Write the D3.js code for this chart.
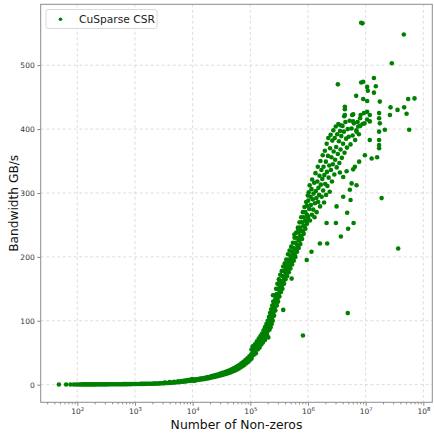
<!DOCTYPE html>
<html>
<head>
<meta charset="utf-8">
<script src="https://cdn.jsdelivr.net/npm/d3@7"></script>
<style>
  body { margin: 0; background: #fff; }
  text { font-family: "DejaVu Sans", sans-serif; }
</style>
</head>
<body>
<div class="layout"></div>
<script>

// flat part of the curve, small matrices [nnz, GB/s]
const tail = [
  [48,0.3],[64,0.3],[76,0.3],[87,0.3],[96,0.3],[105,0.3],[113,0.3],[121,0.4],[130,0.4],[139,0.4],
  [148,0.4],[157,0.4],[167,0.4],[178,0.4],[190,0.4],[202,0.4],[215,0.5],[229,0.5],[244,0.5],[260,0.5],
  [277,0.5],[295,0.5],[314,0.5],[334,0.5],[356,0.6],[379,0.6],[404,0.6],[430,0.6],[458,0.6],[488,0.7],
  [520,0.7],[554,0.7],[590,0.7],[628,0.8],[669,0.8],[712,0.8],[758,0.9],[807,0.9],[860,0.9],[916,1.0],
  [975,1.0],[1040,1.0],[1110,1.1],[1180,1.1],[1260,1.2],[1340,1.2],[1430,1.3],[1520,1.3],[1620,1.4],
  [1730,1.4],[1840,1.5],[1960,1.5],[2090,1.6],[2230,1.7],[2370,1.8],[2530,1.9],[2690,2.0],[2870,2.1],
  [3060,2.2],[3260,2.4],[3300,3.2],[3470,2.5],[3700,2.7],[3940,2.8],[4000,3.9],[4200,3.0],[4470,3.2],
  [4760,3.4],[4800,4.6],[5070,3.6],[5400,3.8],[5600,5.2],[5760,4.0],[6130,4.3],[6400,5.8],[6530,4.5],
  [6960,4.8],[7200,6.5],[7410,5.1],[7900,5.4],[8100,7.2],[8410,5.7],[8960,6.0],[9000,7.8],[9550,6.3],
  [9800,8.6]
];

// rising part from 1e4 to 1e5
const ramp = [
  [10500,6.0],[10800,8.0],[11200,6.6],[11600,8.4],[12000,7.2],[12500,8.9],[13000,7.6],[13500,9.4],
  [14000,8.0],[14600,9.9],[15200,8.4],[15800,10.5],[16400,9.0],[17000,11.1],[17700,9.6],[18400,11.8],
  [19100,10.2],[19900,12.5],[20700,10.8],[21500,13.3],[22400,11.5],[23300,14.2],[24200,12.2],[25200,15.0],
  [26200,13.0],[27300,16.0],[28400,13.8],[29500,17.0],[30700,14.6],[32000,18.0],[33300,15.4],[34600,19.0],
  [36000,16.3],[37500,20.1],[39000,17.2],[40600,21.3],[42200,18.2],[43900,22.6],[45700,19.3],[47500,24.0],
  [49400,20.5],[51400,25.6],[53500,21.9],[55600,27.3],[57800,23.4],[60100,29.2],[62500,25.0],[65000,31.2],
  [67600,26.8],[70300,33.4],[73100,28.8],[76000,35.8],[79000,31.0],[82200,38.4],[85500,33.4],[88900,41.2],
  [92400,36.0],[96100,44.2],[99900,39.0],[103900,47.5]
];

// steep band from 1e5 to 1e6
const band = [
  [105000,44],[105000,55],[110000,50],[110000,60],[115000,47],[115000,57],[120000,53],[120000,63],
  [125000,49],[125000,56],[130000,60],[130000,68],[135000,55],[135000,65],[140000,62],[140000,72],
  [145000,58],[145000,69],[150000,66],[150000,76],[155000,63],[155000,73],[160000,70],[160000,80],
  [165000,66],[165000,76],[170000,73],[170000,85],[175000,70],[175000,80],[180000,77],[180000,90],
  [185000,74],[185000,86],[190000,81],[190000,95],[195000,78],[195000,92],[200000,84],[200000,100],
  [205000,74],[205000,88],[205000,96],[210000,92],[210000,106],[215000,86],[215000,93],[215000,100],
  [220000,96],[220000,112],[225000,90],[225000,98],[225000,105],[230000,100],[230000,118],[235000,95],
  [235000,104],[235000,112],[240000,106],[240000,124],[245000,100],[245000,110],[245000,118],[250000,112],
  [250000,130],[258000,108],[258000,117],[258000,126],[265000,120],[265000,140],[272000,116],[272000,125],
  [272000,134],[280000,128],[280000,150],[288000,124],[288000,133],[288000,142],[295000,134],[295000,158],
  [303000,130],[303000,140],[303000,150],[312000,142],[312000,165],[320000,138],[320000,147],[320000,156],
  [330000,148],[330000,172],[340000,145],[340000,154],[340000,162],[350000,155],[350000,178],[360000,150],
  [360000,160],[360000,170],[372000,162],[372000,185],[384000,158],[384000,168],[384000,178],[396000,168],
  [396000,190],[408000,165],[408000,175],[408000,184],[420000,174],[420000,196],[435000,170],[435000,180],
  [435000,190],[450000,180],[450000,204],[465000,176],[465000,186],[465000,196],[480000,186],[480000,210],
  [495000,182],[495000,192],[495000,202],[512000,192],[512000,216],[530000,188],[530000,198],[530000,208],
  [548000,198],[548000,222],[566000,194],[566000,204],[566000,214],[585000,204],[585000,230],[605000,200],
  [605000,211],[605000,222],[625000,212],[625000,238],[646000,208],[646000,219],[646000,230],[668000,218],
  [668000,246],[690000,214],[690000,226],[690000,238],[713000,226],[713000,254],[737000,220],[737000,233],
  [737000,246],[762000,232],[762000,262],[788000,228],[788000,241],[788000,254],[815000,240],[815000,270],
  [842000,236],[842000,249],[842000,262],[870000,248],[870000,278],[900000,244],[900000,257],[900000,270],
  [930000,256],[930000,286],[961000,252],[961000,266],[961000,280],[993000,264],[993000,296]
];

// spread out cloud of the big matrices
const upper = [
  [1.00e6,262],[1.01e6,288],[1.03e6,301],[1.05e6,275],[1.07e6,312],[1.08e6,257],[1.11e6,294],[1.12e6,281],
  [1.15e6,306],[1.17e6,266],[1.18e6,321],[1.21e6,290],[1.23e6,274],[1.25e6,299],[1.28e6,316],[1.30e6,262],
  [1.32e6,284],[1.35e6,331],[1.37e6,303],[1.40e6,292],[1.41e6,270],[1.45e6,318],[1.48e6,341],[1.50e6,286],
  [1.52e6,308],[1.56e6,297],[1.58e6,327],[1.62e6,279],[1.64e6,350],[1.67e6,313],[1.71e6,336],[1.73e6,294],
  [1.77e6,322],[1.80e6,359],[1.83e6,304],[1.86e6,341],[1.90e6,285],[1.92e6,328],[1.96e6,366],[1.99e6,314],
  [2.04e6,349],[2.06e6,297],[2.11e6,377],[2.13e6,333],[2.17e6,311],[2.22e6,358],[2.25e6,386],[2.28e6,324],
  [2.34e6,343],[2.38e6,302],[2.41e6,370],[2.47e6,391],[2.50e6,336],[2.55e6,356],[2.61e6,318],[2.64e6,382],
  [2.70e6,345],[2.75e6,398],[2.79e6,365],[2.86e6,329],[2.91e6,386],[2.96e6,352],[3.03e6,404],[3.08e6,372],
  [3.15e6,340],[3.21e6,392],[3.29e6,361],[3.36e6,408],[3.44e6,381],[3.50e6,347],[3.59e6,397],[3.67e6,368],
  [3.78e6,389],[3.86e6,355],[3.97e6,405],[4.06e6,377],[4.19e6,396],[4.30e6,363],[4.45e6,411],[4.58e6,385],
  [4.74e6,371],[4.90e6,400],[5.08e6,388],[5.27e6,413],[5.46e6,376],[5.70e6,401],[5.95e6,390],[6.25e6,409],
  [6.58e6,383],[6.90e6,398],[7.25e6,411],[7.62e6,392],[8.05e6,405]
];

// loose points around the cloud
const sparse = [
  [6.17e6,253],[4.97e6,244],[3.72e6,232],[3.05e6,253],[2.15e6,221],[1.61e6,221],[4.78e6,269],
  [8.17e6,422],[9.31e6,425],[1.06e7,427],[1.18e7,422],[1.06e7,415],[1.18e7,412],[9.56e6,409],[8.00e6,417],
  [1.71e7,425],[1.71e7,417],[1.76e7,409],[2.63e7,422],[5.12e7,424],[5.68e7,399],
  [3.67e6,406],[6.07e6,412],[7.41e6,404],[8.83e6,408],[6.95e6,396],[1.71e7,396],[2.15e7,399],
  [1.18e7,383],[1.71e7,383],[1.71e7,375],[1.71e7,370],[9.69e6,359],[1.27e7,354],[1.58e7,356],
  [7.71e6,349],[6.50e6,341],[6.07e6,337],[3.57e6,332],[4.67e6,334],[4.08e6,325],[5.70e6,315],[6.95e6,312],
  [5.32e6,305],[4.08e6,294],[5.47e6,289],[3.13e6,279],
  [8.36e6,473],[9.06e6,474],[1.39e7,480],[1.06e7,466],[1.50e7,467],[1.09e7,460],[1.39e7,457],[6.84e6,452],
  [9.06e6,447],[1.06e7,444],[1.76e7,443],[5.46e7,447],[7.03e7,448],
  [4.36e6,435],[4.36e6,431],[4.36e6,422],[5.83e6,422],[2.70e7,434],[3.57e7,430],[4.65e7,434],[6.07e6,423],
  [4.24e6,420],[6.80e5,243],[5.80e5,235],[2.47e5,140],[3.17e5,164],[1.79e5,70],[3.72e5,117],[5.20e5,166],
  [9.50e5,195],[1.15e6,208],[2.10e6,253],[1.05e5,41]
];

// far away points
const outliers = [
  [8.36e6,566.5],[8.80e6,565.5],[4.59e7,548],[2.84e7,503],[3.30e6,470],[3.66e7,213],
  [4.90e6,112],[8.17e5,77],[1.89e7,292]
];

const yTicks = [0, 100, 200, 300, 400, 500];
const xExponents = [2, 3, 4, 5, 6, 7, 8];
const seriesName = "CuSparse CSR";

function drawChart() {
  var width = 434;
  var height = 434;
  var left = 40.7, right = 432.3, top = 4.3, bottom = 402.3;

  var svg = d3.select("div.layout")
    .append("svg")
      .attr("width", width)
      .attr("height", height);

  var x = d3.scaleLog()
    .domain([23.2, 1.43e8])
    .range([left, right]);

  var y = d3.scaleLinear()
    .domain([-27.6, 595.3])
    .range([bottom, top]);

  var points = tail.concat(ramp, band, upper, sparse, outliers);

  // grid lines
  var grid = svg.append("g").attr("class", "grid");
  grid.selectAll("line.gx")
    .data(xExponents)
    .enter()
    .append("line")
    .attr("x1", function (d) { return x(Math.pow(10, d)); })
    .attr("x2", function (d) { return x(Math.pow(10, d)); })
    .attr("y1", top)
    .attr("y2", bottom);
  grid.selectAll("line.gy")
    .data(yTicks)
    .enter()
    .append("line")
    .attr("x1", left)
    .attr("x2", right)
    .attr("y1", function (d) { return y(d); })
    .attr("y2", function (d) { return y(d); });
  grid.selectAll("line")
    .attr("stroke", "#d4d4d4")
    .attr("stroke-width", 0.8)
    .attr("stroke-dasharray", "3,2.5");

  // the points
  svg.append("g")
    .selectAll("circle")
    .data(points)
    .enter()
    .append("circle")
    .attr("cx", function (d) { return x(d[0]); })
    .attr("cy", function (d) { return y(d[1]); })
    .attr("r", 2.3)
    .attr("fill", "#008000");

  // minor ticks on the log axis
  var minor = [];
  for (var e = 1; e <= 8; e++) {
    for (var m = 2; m <= 9; m++) {
      var v = m * Math.pow(10, e);
      if (v > 23.2 && v < 1.43e8) minor.push(v);
    }
  }
  var xMinor = svg.append("g")
    .attr("class", "xAxis")
    .attr("transform", "translate(0," + bottom + ")")
    .call(d3.axisBottom(x).tickValues(minor).tickSize(2).tickFormat(""));
  xMinor.selectAll("text").remove();

  // major ticks with 10^n labels
  var xMajor = svg.append("g")
    .attr("class", "xAxis")
    .attr("transform", "translate(0," + bottom + ")")
    .call(d3.axisBottom(x)
      .tickValues(xExponents.map(function (d) { return Math.pow(10, d); }))
      .tickSize(3.5)
      .tickFormat(""));
  xMajor.selectAll("text").remove();
  xMajor.selectAll(".tick").each(function (d, i) {
    var t = d3.select(this).append("text")
      .attr("y", 12)
      .attr("text-anchor", "middle")
      .attr("fill", "#333")
      .style("font-size", "7.5px");
    t.append("tspan").text("10");
    t.append("tspan")
      .attr("dy", -3)
      .style("font-size", "5.3px")
      .text(xExponents[i]);
  });

  // y axis
  svg.append("g")
    .attr("class", "yAxis")
    .attr("transform", "translate(" + left + ",0)")
    .call(d3.axisLeft(y).tickValues(yTicks).tickSize(3.5).tickPadding(2.5))
    .selectAll("text")
    .attr("fill", "#333")
    .style("font-size", "7.5px");

  svg.selectAll("path.domain").remove();
  svg.selectAll(".tick line").attr("stroke", "#888");

  // frame
  svg.append("rect")
    .attr("x", left)
    .attr("y", top)
    .attr("width", right - left)
    .attr("height", bottom - top)
    .attr("fill", "none")
    .attr("stroke", "#8c8c8c")
    .attr("stroke-width", 1);

  // labels
  svg.append("text")
    .attr("x", (left + right) / 2)
    .attr("y", 428.5)
    .attr("text-anchor", "middle")
    .attr("fill", "#111")
    .style("font-size", "12.4px")
    .text("Number of Non-zeros");

  svg.append("text")
    .attr("transform", "translate(18," + ((top + bottom) / 2) + ") rotate(-90)")
    .attr("text-anchor", "middle")
    .attr("fill", "#111")
    .style("font-size", "12.2px")
    .text("Bandwidth GB/s");

  // legend
  var legend = svg.append("g").attr("class", "legend");
  legend.append("rect")
    .attr("x", 46)
    .attr("y", 9.5)
    .attr("width", 111)
    .attr("height", 19)
    .attr("rx", 2)
    .attr("fill", "white")
    .attr("fill-opacity", 0.8)
    .attr("stroke", "#d0d0d0")
    .attr("stroke-width", 0.8);
  legend.append("circle")
    .attr("cx", 60.5)
    .attr("cy", 19.3)
    .attr("r", 1.8)
    .attr("fill", "#008000");
  legend.append("text")
    .attr("x", 79)
    .attr("y", 23)
    .attr("fill", "#222")
    .style("font-size", "10.7px")
    .text(seriesName);
}

drawChart();
</script>
</body>
</html>
